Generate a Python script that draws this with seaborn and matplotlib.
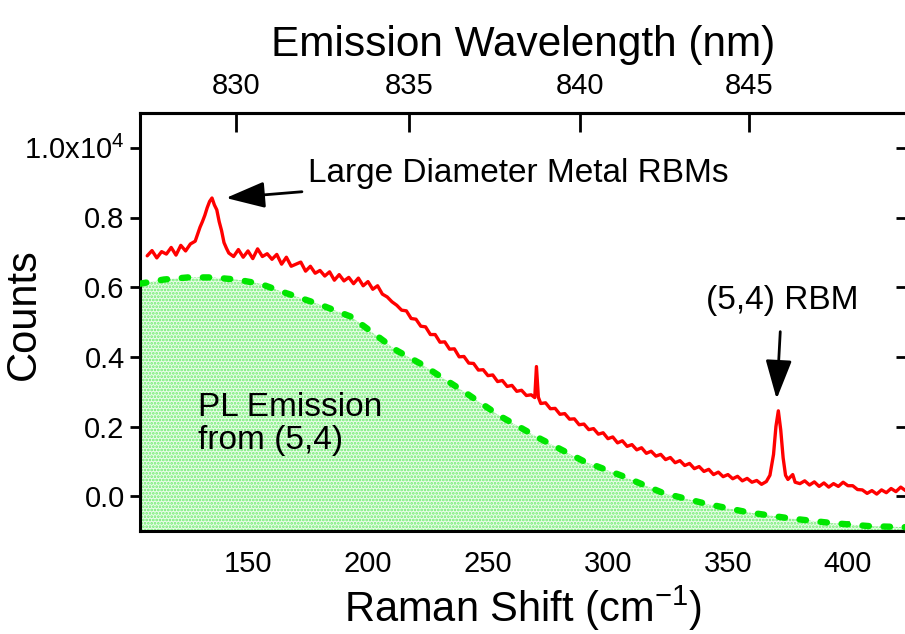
#!/usr/bin/env python3
"""
Raman spectrum of (5,4) SWNTs on top of the PL emission background.
"""

import numpy as np
import matplotlib
matplotlib.use('Agg')
import matplotlib.pyplot as plt
import seaborn as sns

# ---------------- data (counts in units of 1e4) ----------------
LASER_NM = 820.13  # excitation wavelength used for the top axis

raman_x = [108, 110, 112, 114, 116, 118, 120, 122, 124, 126,
           128, 129, 130, 131, 132, 133, 134, 135, 136, 137,
           138, 139, 140, 141, 142, 144, 146, 148, 150, 152,
           154, 156, 158, 160, 162, 164, 166, 168, 170, 172,
           174, 176, 178, 180, 182, 184, 186, 188, 190, 192,
           194, 196, 198, 200, 202, 204, 206, 208, 210, 212,
           214, 216, 218, 220, 222, 224, 226, 228, 230, 232,
           234, 236, 238, 240, 242, 244, 246, 248, 250, 252,
           254, 256, 258, 260, 262, 264, 266, 268, 269.5, 270.2,
           271, 272, 274, 276, 278, 280, 282, 284, 286, 288,
           290, 292, 294, 296, 298, 300, 302, 304, 306, 308,
           310, 312, 314, 316, 318, 320, 322, 324, 326, 328,
           330, 332, 334, 336, 338, 340, 342, 344, 346, 348,
           350, 352, 354, 356, 358, 360, 362, 364, 366, 367.5,
           369, 370, 371, 372, 373, 374, 375, 376, 377, 378,
           380, 382, 384, 386, 388, 390, 392, 394, 396, 398,
           400, 402, 404, 406, 408, 410, 412, 414, 416, 418,
           420, 422, 424]
raman_counts = [0.690, 0.705, 0.684, 0.702, 0.695, 0.714, 0.692, 0.720, 0.704, 0.724,
                0.732, 0.752, 0.772, 0.788, 0.806, 0.828, 0.846, 0.856, 0.836, 0.822,
                0.788, 0.762, 0.728, 0.712, 0.698, 0.688, 0.708, 0.686, 0.704, 0.682,
                0.710, 0.688, 0.696, 0.680, 0.694, 0.666, 0.686, 0.660, 0.666, 0.672,
                0.646, 0.660, 0.640, 0.648, 0.632, 0.644, 0.620, 0.636, 0.618, 0.628,
                0.610, 0.626, 0.604, 0.616, 0.594, 0.604, 0.580, 0.572, 0.558, 0.548,
                0.534, 0.532, 0.510, 0.508, 0.488, 0.486, 0.464, 0.464, 0.442, 0.443,
                0.422, 0.423, 0.400, 0.401, 0.382, 0.381, 0.362, 0.363, 0.346, 0.348,
                0.329, 0.332, 0.315, 0.318, 0.301, 0.304, 0.289, 0.291, 0.283, 0.372,
                0.284, 0.266, 0.268, 0.251, 0.252, 0.235, 0.237, 0.221, 0.222, 0.205,
                0.207, 0.191, 0.194, 0.178, 0.182, 0.165, 0.170, 0.153, 0.159, 0.143,
                0.148, 0.133, 0.139, 0.123, 0.129, 0.115, 0.120, 0.105, 0.111, 0.096,
                0.102, 0.088, 0.094, 0.079, 0.085, 0.071, 0.077, 0.062, 0.069, 0.056,
                0.062, 0.050, 0.057, 0.044, 0.051, 0.040, 0.045, 0.034, 0.042, 0.060,
                0.120, 0.200, 0.245, 0.190, 0.110, 0.060, 0.048, 0.055, 0.062, 0.040,
                0.036, 0.044, 0.032, 0.041, 0.028, 0.038, 0.026, 0.036, 0.028, 0.040,
                0.030, 0.030, 0.019, 0.018, 0.008, 0.016, 0.006, 0.018, 0.010, 0.022,
                0.013, 0.026, 0.016]

pl_x = [105, 115, 125, 135, 145, 155, 165, 180, 193, 212, 222, 240, 255, 272, 290,
        306, 323, 341, 358, 375, 393, 409, 424]
pl_counts = [0.610, 0.622, 0.628, 0.628, 0.622, 0.610, 0.585, 0.550, 0.515, 0.418, 0.380,
             0.300, 0.230, 0.164, 0.100, 0.058, 0.009, -0.022, -0.046, -0.063, -0.077,
             -0.086, -0.089]

wl_ticks = [830, 835, 840, 845]
count_ticks = [0.0, 0.2, 0.4, 0.6, 0.8, 1.0]
count_labels = ['0.0', '0.2', '0.4', '0.6', '0.8', '1.0x10$^4$']
raman_ticks = [150, 200, 250, 300, 350, 400]


def shift_to_wl(s):
    s = np.asarray(s, dtype=float)
    return 1e7 / (1e7 / LASER_NM - s)


def wl_to_shift(w):
    w = np.asarray(w, dtype=float)
    return 1e7 / LASER_NM - 1e7 / w


sns.set_theme(style='ticks')
plt.rcParams['font.family'] = ['Liberation Sans', 'DejaVu Sans']
plt.rcParams['mathtext.fontset'] = 'custom'
plt.rcParams['mathtext.rm'] = 'Liberation Sans'
plt.rcParams['hatch.linewidth'] = 1.3
for key in ['text.color', 'axes.labelcolor', 'xtick.color', 'ytick.color',
            'axes.edgecolor']:
    plt.rcParams[key] = 'black'

fig = plt.figure(figsize=(9.05, 6.34), dpi=100)
ax = fig.add_axes([140 / 905, 103 / 634, 766 / 905, 418 / 634])

ymin, ymax = -0.1, 1.1

# PL background: stippled fill + dashed outline
ax.fill_between(pl_x, pl_counts, ymin, facecolor='#e9fce9', hatch='.....',
                edgecolor='#6cec6c', linewidth=0, zorder=1)
sns.lineplot(x=pl_x, y=pl_counts, ax=ax, color='#00e600', linewidth=4.6,
             linestyle=(0, (1.0, 2.3)), dash_capstyle='round', estimator=None,
             zorder=3)

# measured spectrum
sns.lineplot(x=raman_x, y=raman_counts, ax=ax, color='#ff0000', linewidth=2.4,
             estimator=None, zorder=4)

ax.set_xlim(105, 424.2)
ax.set_ylim(ymin, ymax)
ax.set_xticks(raman_ticks)
ax.set_yticks(count_ticks, labels=count_labels)
for side in ['left', 'right', 'top', 'bottom']:
    ax.spines[side].set_visible(True)
    ax.spines[side].set_linewidth(2.2)
    ax.spines[side].set_color('black')

ax.tick_params(axis='x', direction='in', length=7, width=2, pad=14,
               labelsize=21, bottom=True, top=False)
ax.tick_params(axis='y', direction='out', length=7, width=2, pad=4,
               labelsize=21, left=True, right=False)

ax.set_xlabel('Raman Shift (cm$^{-1}$)', fontsize=30, labelpad=4)
ax.set_ylabel('Counts', fontsize=30)
ax.yaxis.set_label_coords(-0.126, 0.52)

# top axis in emission wavelength
top = ax.secondary_xaxis('top', functions=(shift_to_wl, wl_to_shift))
top.set_xticks(wl_ticks)
top.tick_params(direction='in', length=14, width=2, pad=9, labelsize=21)
top.set_xlabel('Emission Wavelength (nm)', fontsize=30.5, labelpad=12)
top.spines['top'].set_linewidth(2.2)

# right axis: inward ticks, no labels
right = ax.secondary_yaxis('right')
right.set_yticks(count_ticks)
right.tick_params(direction='in', length=7, width=2, labelright=False)
right.spines['right'].set_linewidth(2.2)

# annotations
head = '-|>,head_length=0.8,head_width=0.27'
ax.annotate('Large Diameter Metal RBMs', xy=(140.8, 0.856), xytext=(175, 0.925),
            fontsize=24, va='center', ha='left',
            arrowprops=dict(arrowstyle=head, color='black', lw=2,
                            mutation_scale=30, shrinkA=2, shrinkB=0))
ax.annotate('(5,4) RBM', xy=(370.3, 0.279), xytext=(372.5, 0.562),
            fontsize=24, va='center', ha='center',
            arrowprops=dict(arrowstyle=head, color='black', lw=2,
                            mutation_scale=30, shrinkA=9, shrinkB=0))
ax.text(129.2, 0.207, 'PL Emission\nfrom (5,4)', fontsize=24, ha='left',
        va='center', linespacing=1.05, zorder=5)

plt.savefig('out.png', dpi=100)
plt.close()
